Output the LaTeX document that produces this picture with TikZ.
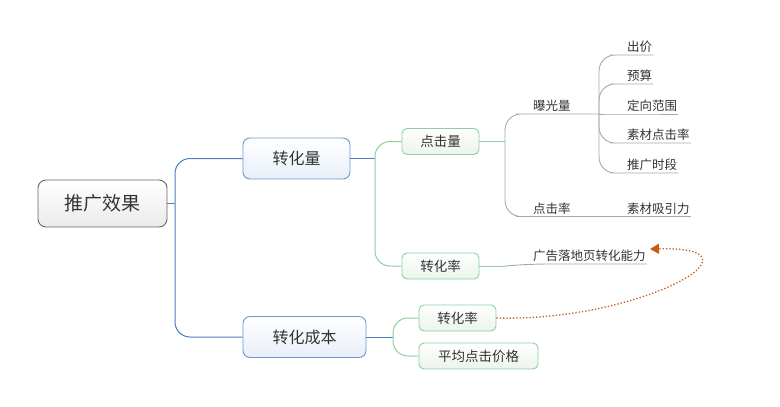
\documentclass[tikz,border=0pt]{standalone}
\usepackage{fontspec}
\setmainfont{Noto Sans CJK SC}
\usetikzlibrary{arrows.meta}
\definecolor{txt}{HTML}{333333}
\definecolor{blueln}{HTML}{4A7DBA}
\definecolor{bluebd}{HTML}{6C98CB}
\definecolor{bluefill}{HTML}{E8EFF9}
\definecolor{greenln}{HTML}{8DCF9F}
\definecolor{greenfill}{HTML}{EAF4EC}
\definecolor{graylnc}{HTML}{A8A8A8}
\definecolor{orng}{HTML}{C85A14}
\tikzset{
  rootbox/.style={draw=black!60, line width=0.9pt, rounded corners=8pt, top color=white, bottom color=black!8,
    minimum width=129pt, minimum height=47pt, font=\fontsize{19}{21}\selectfont, text=txt, inner sep=0pt},
  bluebox/.style={draw=bluebd, line width=0.9pt, rounded corners=7pt, top color=white, bottom color=bluefill,
    minimum height=41pt, font=\fontsize{16}{18}\selectfont, text=txt, inner sep=0pt},
  greenbox/.style={draw=greenln, line width=0.9pt, rounded corners=5pt, top color=white, bottom color=greenfill,
    minimum height=26pt, font=\fontsize{13.5}{15}\selectfont, text=txt, inner sep=0pt},
  lbl/.style={font=\fontsize{12.5}{14}\selectfont, text=txt, inner xsep=1pt, inner ysep=2pt},
  bline/.style={draw=blueln, line width=1pt, rounded corners=15pt},
  gline/.style={draw=greenln, line width=1pt, rounded corners=15pt},
  yline/.style={draw=graylnc, line width=0.9pt, rounded corners=16pt},
}
\begin{document}
\begin{tikzpicture}[x=1pt,y=-1pt]
\useasboundingbox (0,0) rectangle (780,407);
% main nodes
\node[rootbox] (root) at (102.5,203.5) {推广效果};
\node[bluebox, minimum width=107pt] (zhl) at (296.5,158.5) {转化量};
\node[bluebox, minimum width=123pt] (zhcb) at (304.5,337) {转化成本};
\node[greenbox, minimum width=77pt] (djl) at (440.5,141.5) {点击量};
\node[greenbox, minimum width=77pt] (zhl1) at (440.5,266) {转化率};
\node[greenbox, minimum width=77pt] (zhl2) at (457.5,318) {转化率};
\node[greenbox, minimum width=119pt] (pjdj) at (478.5,356) {平均点击价格};
% labels
\node[lbl, anchor=south west] (bgl) at (532,114) {曝光量};
\node[lbl, anchor=south west] (djv) at (532,216.5) {点击率};
\node[lbl, anchor=south west] (cj) at (626,55) {出价};
\node[lbl, anchor=south west] (ys) at (626,84) {预算};
\node[lbl, anchor=south west] (dx) at (626,114) {定向范围};
\node[lbl, anchor=south west] (sc) at (626,143) {素材点击率};
\node[lbl, anchor=south west] (tg) at (626,173) {推广时段};
\node[lbl, anchor=south west] (xy) at (626,216.5) {素材吸引力};
\node[lbl, anchor=south west] (gg) at (532,264) {广告落地页转化能力};
\coordinate (ggtip) at (650,249);
% junctions
\coordinate (j1) at (175,203.5);
\coordinate (j2) at (375,158.5);
\coordinate (j3) at (505,141.5);
\coordinate (j4) at (599,114);
\coordinate (j5) at (505,266);
\coordinate (j6) at (393,337);
% root connectors
\draw[bline] (root.east) -- (j1);
\draw[bline] (j1) |- (zhl.west);
\draw[bline] (j1) |- (zhcb.west);
% 转化量
\draw[bline] (zhl.east) -- (j2);
\draw[gline] (j2) |- (djl.west);
\draw[gline] (j2) |- (zhl1.west);
% 点击量
\draw[gline] (djl.east) -- (j3);
\draw[yline] (j3) |- (bgl.south west) -- (bgl.south east) -- (j4);
\draw[yline] (j3) |- (djv.south west) -- (djv.south east) -- (xy.south west) -- (xy.south east);
% 曝光量 children
\draw[yline] (j4) |- (cj.south west) -- (cj.south east);
\draw[yline] (j4) |- (ys.south west) -- (ys.south east);
\draw[yline] (j4) -- (dx.south west) -- (dx.south east);
\draw[yline] (j4) |- (sc.south west) -- (sc.south east);
\draw[yline] (j4) |- (tg.south west) -- (tg.south east);
% 转化率
\draw[gline] (zhl1.east) -- (j5);
\draw[yline] (j5) -- (gg.south west) -- (gg.south east);
% 转化成本
\draw[bline] (zhcb.east) -- (j6);
\draw[gline] (j6) |- (zhl2.west);
\draw[gline] (j6) |- (pjdj.west);
% dotted relation
\draw[orng, line width=1.3pt, dotted, -{Triangle[length=9pt,width=10pt,fill=orng]}]
  (zhl2.east) .. controls (640,322) and (775,246) .. (ggtip);
\end{tikzpicture}
\end{document}
